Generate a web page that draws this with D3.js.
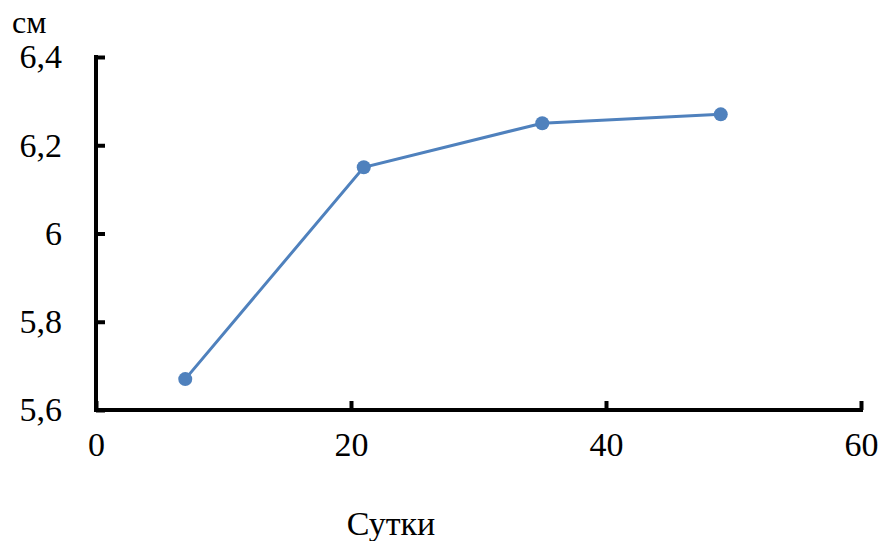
<!DOCTYPE html>
<html><head><meta charset="utf-8">
<script src="https://cdn.jsdelivr.net/npm/d3@7"></script>
</head><body style="margin:0">
<svg id="c" width="883" height="541"></svg>
<script>
const days = [7, 21, 35, 49];
const lengths = [5.67, 6.15, 6.25, 6.27];
const xTicks = [0, 20, 40, 60];
const yTicks = [5.6, 5.8, 6.0, 6.2, 6.4];
const yTickLabels = ["5,6", "5,8", "6", "6,2", "6,4"];
const yUnit = "см";
const xTitle = "Сутки";

const FONT = '"Liberation Serif"';
const svg = d3.select("#c").style("display", "block");
const x = d3.scaleLinear().domain([0, 60]).range([96, 861]);
const y = d3.scaleLinear().domain([5.6, 6.4]).range([410, 57]);

// axes
const ax = svg.append("g").attr("transform", `translate(0,${y(5.6)})`)
  .call(d3.axisBottom(x).tickValues(xTicks).tickSize(-9).tickPadding(22).tickFormat(d3.format("d")));
const ay = svg.append("g").attr("transform", `translate(${x(0)},0)`)
  .call(d3.axisLeft(y).tickValues(yTicks).tickSize(-9).tickPadding(34).tickFormat((d,i)=>yTickLabels[i]));
[ax, ay].forEach(g => {
  g.attr("font-family", null).attr("font-size", null);
  g.select(".domain").remove();
  g.selectAll(".tick line").attr("stroke", "#000").attr("stroke-width", 4);
  g.selectAll(".tick text").style("font-size", "34px").style("font-family", FONT).attr("fill", "#000");
});
ax.selectAll(".tick text").attr("dy", "0.71em");
svg.append("line").attr("x1", x(0)).attr("x2", x(0)).attr("y1", y(6.4) - 2).attr("y2", y(5.6) + 2)
  .attr("stroke", "#000").attr("stroke-width", 4);
svg.append("line").attr("x1", x(0) - 2).attr("x2", x(60) + 2).attr("y1", y(5.6)).attr("y2", y(5.6))
  .attr("stroke", "#000").attr("stroke-width", 4);

// series
const pts = days.map((d, i) => [d, lengths[i]]);
svg.append("path").datum(pts)
  .attr("d", d3.line().x(d => x(d[0])).y(d => y(d[1])))
  .attr("fill", "none").attr("stroke", "#4f81bd").attr("stroke-width", 3);
svg.selectAll("circle.p").data(pts).enter().append("circle")
  .attr("cx", d => x(d[0])).attr("cy", d => y(d[1])).attr("r", 7).attr("fill", "#4f81bd");

// titles
svg.append("text").attr("x", 12).attr("y", 33).style("font-size", "32px").style("font-family", FONT).text(yUnit);
svg.append("text").attr("x", 391).attr("y", 535).attr("text-anchor", "middle").style("font-size", "34px").style("font-family", FONT).text(xTitle);
</script>
</body></html>
